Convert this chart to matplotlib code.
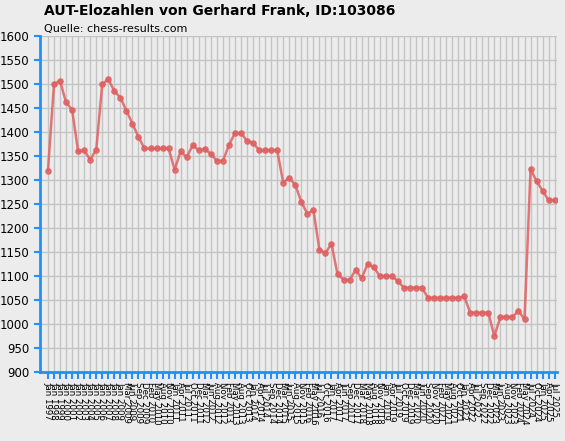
import matplotlib
matplotlib.use("Agg")
import matplotlib.pyplot as plt
import pandas as pd

elo = [1320, 1500, 1507, 1462, 1447, 1360, 1362, 1343, 1363, 1500, 1510, 1486, 1472, 1445,
       1418, 1390, 1366, 1366, 1366, 1366, 1366, 1322, 1360, 1348, 1373, 1362, 1365, 1355,
       1340, 1340, 1373, 1398, 1398, 1382, 1378, 1362, 1362, 1362, 1362, 1295, 1305, 1290,
       1255, 1230, 1238, 1155, 1148, 1168, 1104, 1093, 1092, 1113, 1096, 1125, 1119, 1100,
       1100, 1100, 1090, 1076, 1076, 1076, 1076, 1055, 1055, 1055, 1055, 1055, 1055, 1058,
       1024, 1024, 1024, 1024, 975, 1015, 1015, 1015, 1028, 1010, 1323, 1298, 1278, 1258, 1258]
n = len(elo)
early = ["Jan %d" % y for y in range(1997, 2009)]
late = [d.strftime("%b %Y") for d in pd.date_range("2009-01-01", "2025-07-01", periods=n - len(early))]
labels = early + late

fig = plt.figure(figsize=(5.65, 4.41), dpi=100)
fig.patch.set_facecolor("#ECECEC")
ax = fig.add_axes([0.071, 0.156, 0.915, 0.762])
ax.set_facecolor("#ECECEC")
x = list(range(n))
ax.plot(x, elo, color="#E06060", alpha=0.85, lw=1.8, marker="o", ms=3.8, zorder=3)
ax.set_xlim(-1.3, n - 0.6)
ax.set_ylim(900, 1600)
ax.set_yticks(range(900, 1601, 50))
ax.set_xticks(x)
ax.set_xticklabels(labels, rotation=270, fontsize=6.2)
ax.tick_params(axis="y", labelsize=8.5, color="#1E90FF", length=4, width=1.5)
ax.tick_params(axis="x", color="#1E90FF", length=5, width=1.5, pad=2)
ax.grid(True, color="#C4C4C4", lw=1)
for s in ["top", "right"]:
    ax.spines[s].set_visible(False)
for s in ["left", "bottom"]:
    ax.spines[s].set_color("#1E90FF")
    ax.spines[s].set_linewidth(2)
fig.text(0.078, 0.965, "AUT-Elozahlen von Gerhard Frank, ID:103086", fontsize=10, fontweight="bold")
fig.text(0.078, 0.928, "Quelle: chess-results.com", fontsize=8)
fig.savefig("out.png", dpi=100, facecolor=fig.get_facecolor())
